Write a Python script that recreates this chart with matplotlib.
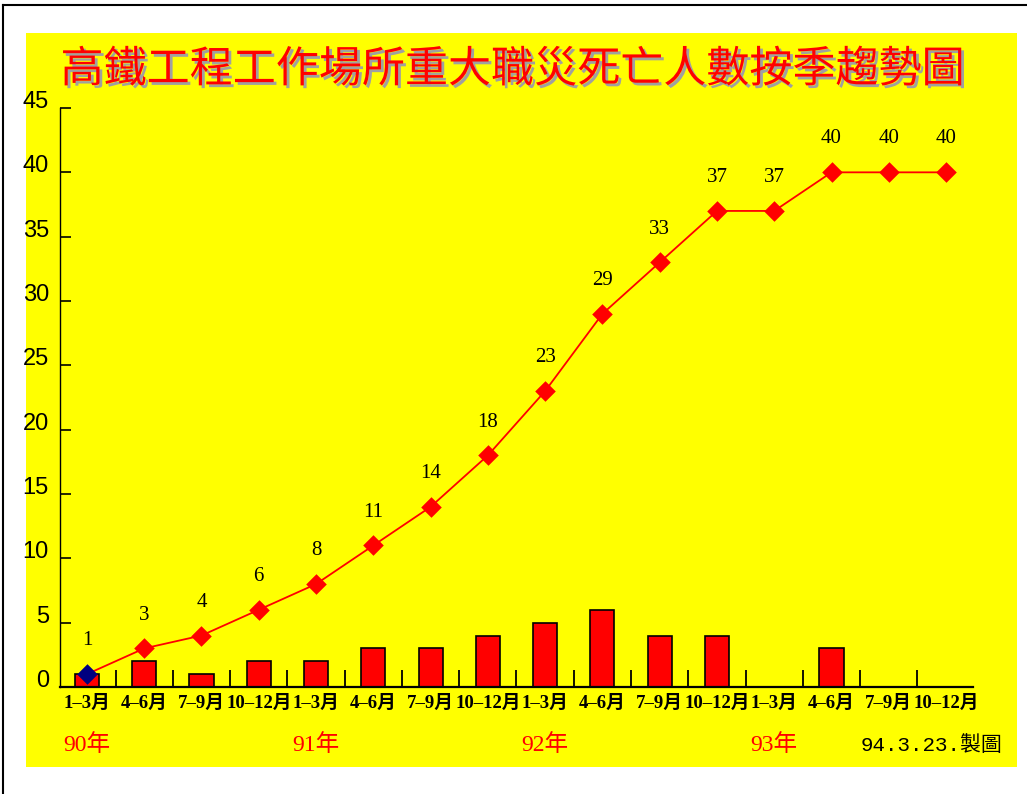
import matplotlib
matplotlib.use("Agg")
import matplotlib.pyplot as plt
import matplotlib.patheffects as pe
import matplotlib.transforms as mtransforms
from matplotlib.lines import Line2D
import numpy as np

categories = ["1–3月", "4–6月", "7–9月", "10–12月",
              "1–3月", "4–6月", "7–9月", "10–12月",
              "1–3月", "4–6月", "7–9月", "10–12月",
              "1–3月", "4–6月", "7–9月", "10–12月"]
quarterly = [1, 2, 1, 2, 2, 3, 3, 4, 5, 6, 4, 4, 0, 3, 0, 0]
cumulative = [1, 3, 4, 6, 8, 11, 14, 18, 23, 29, 33, 37, 37, 40, 40, 40]
years = ["90年", "91年", "92年", "93年"]
year_pos = [0, 4, 8, 12]
yticks = [0, 5, 10, 15, 20, 25, 30, 35, 40, 45]
title = "高鐵工程工作場所重大職災死亡人數按季趨勢圖"
note = "94.3.23.製圖"

plt.rcParams['font.family'] = ['Liberation Serif', 'Noto Sans CJK TC', 'DejaVu Sans']

fig = plt.figure(figsize=(10.27, 7.94), dpi=100)
fig.patch.set_facecolor('white')

# yellow panel
bg = fig.add_axes([26/1027, 1-767/794, (1017-26)/1027, (767-33)/794], zorder=0)
bg.set_facecolor('#FFFF00')
bg.set_xticks([]); bg.set_yticks([])
for s in bg.spines.values():
    s.set_visible(False)

# outer border (top and left visible)
fig.lines.append(Line2D([3/1027, 1], [1-5/794, 1-5/794], transform=fig.transFigure,
                        color='black', lw=1.5))
fig.lines.append(Line2D([3/1027, 3/1027], [0, 1-5/794], transform=fig.transFigure,
                        color='black', lw=1.5))

ax = fig.add_axes([60/1027, 1-687/794, (973-60)/1027, (687-108)/794], zorder=1)
ax.set_facecolor('none')

x = np.arange(len(categories))
ax.bar(x, quarterly, width=0.42, color='#FF0000', edgecolor='black', linewidth=1.2, zorder=2)
ax.plot(x, cumulative, color='#FF0000', lw=1.3, zorder=3)
ax.scatter(x[1:], cumulative[1:], marker='D', s=110, color='#FF0000', zorder=4, linewidths=0)
ax.scatter(x[:1], cumulative[:1], marker='D', s=110, color='#000080', zorder=4, linewidths=0)

for xi, v in zip(x, cumulative):
    ax.annotate(str(v), (xi, v), xytext=(0, 24), textcoords='offset points',
                ha='center', va='center', fontsize=15, family='Liberation Serif')

ax.set_xlim(-0.47, 15.47)
ax.set_ylim(0, 45)
ax.spines['top'].set_visible(False)
ax.spines['right'].set_visible(False)
ax.spines['left'].set_linewidth(1.0)
ax.spines['bottom'].set_linewidth(1.6)

ax.set_yticks(yticks)
ax.set_yticklabels([str(t) for t in yticks], family='Liberation Sans', fontsize=17)
ax.tick_params(axis='y', direction='in', length=8, width=1.2, pad=8)
for tl in ax.get_yticklabels():
    tl.set_va('baseline')

ax.set_xticks(x)
ax.set_xticklabels(categories, fontsize=13.5, fontweight='bold',
                   family=['Liberation Serif', 'Noto Sans CJK TC'])
ax.tick_params(axis='x', length=0, pad=6)
ax.set_xticks(np.arange(0.5, 15.5, 1), minor=True)
ax.tick_params(axis='x', which='minor', direction='in', length=12, width=1.3)

ytrans = mtransforms.blended_transform_factory(ax.transData, fig.transFigure)
for p, lab in zip(year_pos, years):
    ax.text(p, 1-745/794, lab, transform=ytrans, ha='center', va='center',
            color='#FF0000', fontsize=17, family=['Liberation Serif', 'Noto Sans CJK TC'])
ax.text(1002/1027, 1-745/794, note, transform=fig.transFigure, ha='right', va='center',
        fontsize=15, family=['Liberation Mono', 'Noto Sans CJK TC'])

fig.text(512/1027, 1-70/794, title, ha='center', va='center', color='#FF0000',
         fontsize=31, family='Noto Sans CJK TC',
         path_effects=[pe.withSimplePatchShadow(offset=(2, -2), shadow_rgbFace='#A0A0A0', alpha=1)])

fig.savefig('out.png', dpi=100, facecolor=fig.get_facecolor())
